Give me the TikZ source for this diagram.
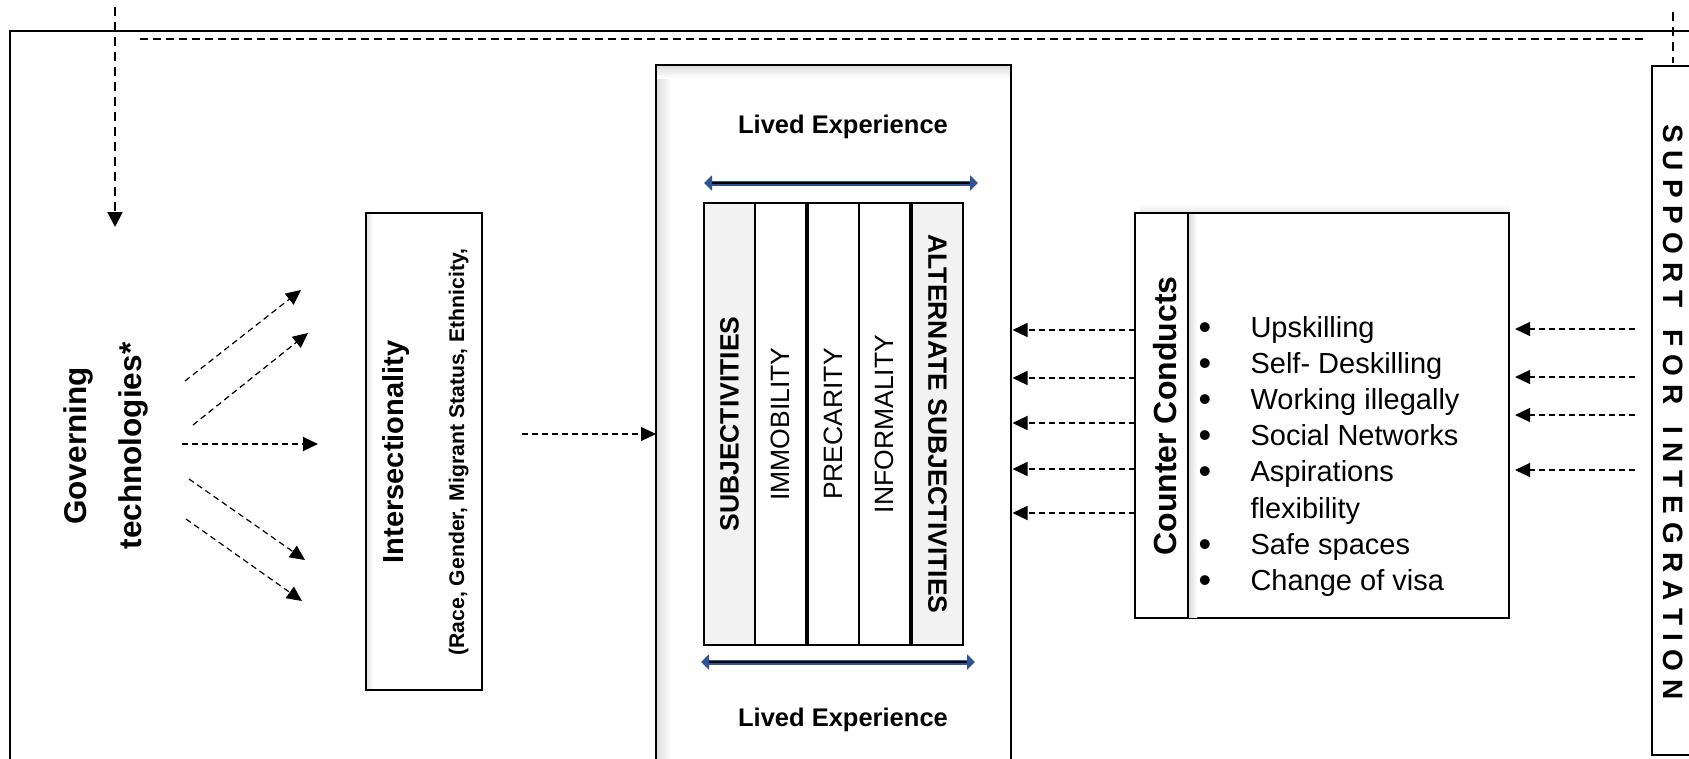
\documentclass[tikz,border=0pt]{standalone}
\usepackage{fontspec}
\setmainfont{Liberation Sans}
\usetikzlibrary{arrows.meta}
\definecolor{lblue}{HTML}{2F5597}
\definecolor{colfill}{HTML}{F2F2F2}
\newcommand{\mylsp}{\hspace{8pt}}
\newcommand{\mywsp}{\hspace{22pt}}
\tikzset{
 plainbox/.style={draw, line width=1.3pt, inner sep=0pt, outer sep=0pt},
 colbox/.style={draw, line width=1.2pt, inner sep=0pt, outer sep=0pt, minimum width=442pt, minimum height=51pt},
 thindash/.style={line width=1.2pt, dash pattern=on 6pt off 4pt},
 tipA/.style={-{Triangle[length=15pt,width=14pt]}},
 bigdash/.style={line width=2pt, dash pattern=on 9pt off 6pt},
 livedtxt/.style={font=\fontsize{25.5pt}{30pt}\selectfont\bfseries, anchor=base},
 coltxtb/.style={font=\fontsize{26.5pt}{30pt}\selectfont\bfseries},
 coltxt/.style={font=\fontsize{26.5pt}{30pt}\selectfont},
 listtxt/.style={font=\fontsize{29pt}{36pt}\selectfont, anchor=base west},
 bultxt/.style={font=\fontsize{36pt}{40pt}\selectfont, anchor=base},
 blueline/.style={draw=lblue, line width=5pt, {Triangle[length=8pt,width=15pt]}-{Triangle[length=8pt,width=15pt]}},
}
\begin{document}
\begin{tikzpicture}[x=1pt,y=-1pt]
\path[use as bounding box] (0,0) rectangle (1689,758);
\clip (0,0) rectangle (1689,758);

% outer frame
\node[draw, line width=2.4pt, inner sep=0pt, outer sep=0pt, minimum width=1710pt, minimum height=769pt] (frame) at (865,415.5) {};

% dashed guides at top
\coordinate (td1) at (140,39);
\coordinate (td2) at (1647,39);
\draw[bigdash, line width=1.8pt, dash pattern=on 8pt off 5pt] (td1) -- (td2);
\coordinate (rv1) at (1673,12);
\coordinate (rv2) at (1673,63);
\draw[bigdash] (rv1) -- (rv2);
\coordinate (lv1) at (115,7);
\coordinate (lv2) at (115,227);
\draw[bigdash, -{Triangle[length=15pt,width=15pt]}] (lv1) -- (lv2);

% Governing technologies
\node[rotate=90, anchor=base, font=\fontsize{31.5pt}{36pt}\selectfont\bfseries] (gov1) at (86,446) {Governing};
\node[rotate=90, anchor=base, font=\fontsize{31.5pt}{36pt}\selectfont\bfseries] (gov2) at (141,446) {technologies*};

% fan of arrows
\coordinate (g1a) at (185,381); \coordinate (g1b) at (301,290);
\coordinate (g2a) at (193,425); \coordinate (g2b) at (308,333);
\coordinate (g3a) at (182,444); \coordinate (g3b) at (318,444);
\coordinate (g4a) at (189,479); \coordinate (g4b) at (305,560);
\coordinate (g5a) at (186,519); \coordinate (g5b) at (302,601);
\foreach \n in {1,...,5} {\draw[thindash, tipA] (g\n a) -- (g\n b);}

% Intersectionality box
\shade[left color=black!10, right color=white] (367,214) rectangle (373,689);
\node[plainbox, minimum width=116pt, minimum height=477pt] (inter) at (424,451.5) {};
\node[rotate=90, anchor=base, font=\fontsize{29pt}{34pt}\selectfont\bfseries] (intt) at (403.5,452) {Intersectionality};
\node[rotate=90, anchor=base, font=\fontsize{21.2pt}{26pt}\selectfont\bfseries] (ints) at (464,452) {(Race, Gender, Migrant Status, Ethnicity,};

% middle box
\shade[left color=black!13, right color=white] (657,66) rectangle (671,758);
\shade[top color=black!13, bottom color=white] (657,66) rectangle (1010,78);
\node[draw, line width=2pt, inner sep=0pt, outer sep=0pt, minimum width=355pt, minimum height=735pt] (mid) at (833.5,432.5) {};

\coordinate (ia) at (522,434);
\draw[thindash, tipA] (ia) -- (ia -| mid.west);

\node[livedtxt] (lvtop) at (843,133) {Lived Experience};
\node[livedtxt] (lvbot) at (843,726) {Lived Experience};

\coordinate (bt1) at (704,183); \coordinate (bt2) at (978,183);
\draw[blueline] (bt1) -- (bt2);
\draw[line width=1.2pt] ([xshift=8pt]bt1) -- ([xshift=-8pt]bt2);
\coordinate (bb1) at (701,662); \coordinate (bb2) at (975,662);
\draw[blueline] (bb1) -- (bb2);
\draw[line width=1.2pt] ([xshift=8pt]bb1) -- ([xshift=-8pt]bb2);

% columns
\node[colbox, fill=colfill, rotate=90, coltxtb] (c1) at (729.5,424) {SUBJECTIVITIES};
\node[colbox, fill=white, rotate=90, coltxt] (c2) at (780.5,424) {IMMOBILITY};
\node[colbox, fill=white, rotate=90, coltxt] (c3) at (833.5,424) {PRECARITY};
\node[colbox, fill=white, rotate=90, coltxt] (c4) at (884.5,424) {INFORMALITY};
\node[colbox, fill=colfill, rotate=-90, coltxtb] (c5) at (937.5,424) {ALTERNATE SUBJECTIVITIES};

% Counter conducts box
\shade[top color=white, bottom color=black!10] (1140,204) rectangle (1509,213);
\node[plainbox, minimum width=374pt, minimum height=405pt] (cc) at (1322,415.5) {};
\shade[left color=black!14, right color=white] (1189,214) rectangle (1197,617);
\draw[line width=1.5pt] ([xshift=53pt]cc.north west) -- ([xshift=53pt]cc.south west);
\node[rotate=90, anchor=base, font=\fontsize{32pt}{36pt}\selectfont\bfseries] (cct) at (1176.5,416) {Counter Conducts};

\node[bultxt] (b1) at (1205,339) {•};
\node[listtxt] (l1) at (1247,337) {Upskilling};
\node[bultxt] (b2) at (1205,375.2) {•};
\node[listtxt] (l2) at (1247,373.2) {Self- Deskilling};
\node[bultxt] (b3) at (1205,411.4) {•};
\node[listtxt] (l3) at (1247,409.4) {Working illegally};
\node[bultxt] (b4) at (1205,447.6) {•};
\node[listtxt] (l4) at (1247,445.6) {Social Networks};
\node[bultxt] (b5) at (1205,483.8) {•};
\node[listtxt] (l5) at (1247,481.8) {Aspirations};
\node[listtxt] (l6) at (1247,518) {flexibility};
\node[bultxt] (b7) at (1205,556.2) {•};
\node[listtxt] (l7) at (1247,554.2) {Safe spaces};
\node[bultxt] (b8) at (1205,592.4) {•};
\node[listtxt] (l8) at (1247,590.4) {Change of visa};

% arrows counter -> middle
\foreach \yy [count=\k] in {330,378,423,469,513} {
  \coordinate (ca\k) at (1135,\yy);
  \draw[thindash, tipA, shorten >=1.5pt] (ca\k) -- (ca\k -| mid.east);
}

% support box
\node[plainbox, minimum width=68pt, minimum height=689pt] (sup) at (1686,410.5) {};
\node[rotate=-90, font=\fontsize{28pt}{32pt}\selectfont\bfseries] (supt) at (1673,412) {S\mylsp U\mylsp P\mylsp P\mylsp O\mylsp R\mylsp T\mywsp F\mylsp O\mylsp R\mywsp I\mylsp N\mylsp T\mylsp E\mylsp G\mylsp R\mylsp A\mylsp T\mylsp I\mylsp O\mylsp N};

\foreach \yy [count=\k] in {329,377,415,470} {
  \coordinate (sa\k) at (1635,\yy);
  \draw[thindash, tipA, shorten >=6pt] (sa\k) -- (sa\k -| cc.east);
}
\end{tikzpicture}
\end{document}
